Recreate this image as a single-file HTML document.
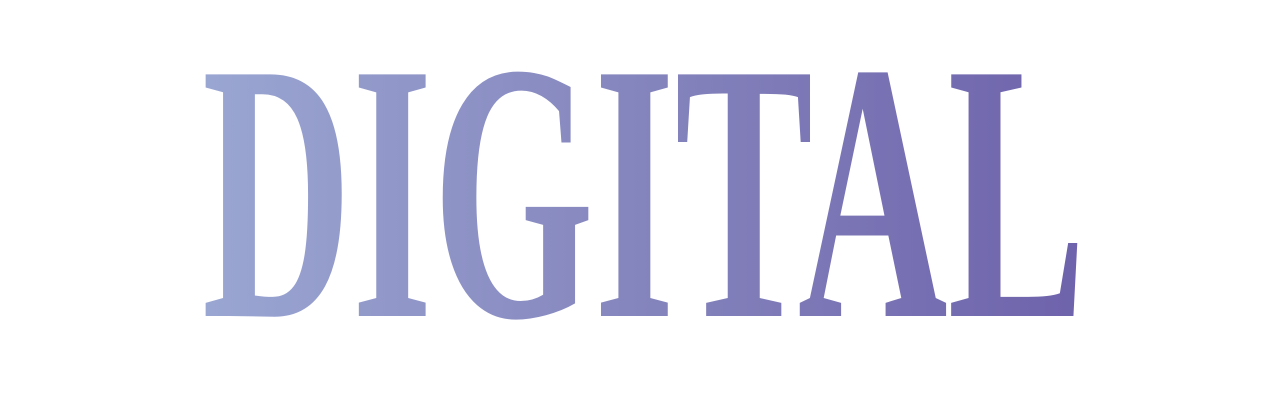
<!DOCTYPE html>
<html>
<head>
<meta charset="utf-8">
<style>
  html,body{margin:0;padding:0;background:#fff;width:1280px;height:400px;overflow:hidden;}
  svg{display:block;}
</style>
</head>
<body>
<svg width="1280" height="400" viewBox="0 0 1280 400" xmlns="http://www.w3.org/2000/svg">
  <defs>
    <linearGradient id="g" x1="204" y1="0" x2="1076" y2="0" gradientUnits="userSpaceOnUse">
      <stop offset="0" stop-color="#9aa6d2"/>
      <stop offset="0.5" stop-color="#8585bd"/>
      <stop offset="1" stop-color="#6e63ac"/>
    </linearGradient>
  </defs>
  <text x="202" y="316" textLength="884" lengthAdjust="spacingAndGlyphs"
        font-family="'Liberation Serif', serif" font-weight="bold" font-size="369" fill="url(#g)">DIGITAL</text>
</svg>
</body>
</html>
